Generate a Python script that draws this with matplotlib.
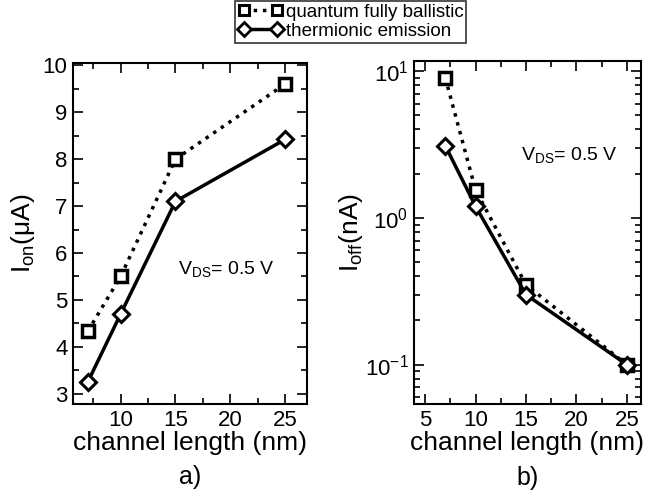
import matplotlib
matplotlib.use("Agg")
import matplotlib.pyplot as plt
from matplotlib.ticker import MultipleLocator, LogLocator, NullFormatter
from matplotlib.lines import Line2D

plt.rcParams['font.family'] = ['Liberation Sans', 'DejaVu Sans']
plt.rcParams['mathtext.fontset'] = 'custom'
plt.rcParams['mathtext.rm'] = 'Liberation Sans'
plt.rcParams['mathtext.it'] = 'Liberation Sans'

# channel length (nm)
length = [7, 10, 15, 25]
# on current (uA)
ion_quantum = [4.33, 5.5, 8.0, 9.6]
ion_thermionic = [3.25, 4.7, 7.1, 8.42]
# off current (nA)
ioff_quantum = [9.0, 1.55, 0.35, 0.1]
ioff_thermionic = [3.1, 1.2, 0.3, 0.1]

fig = plt.figure(figsize=(6.49, 5.01), dpi=100)
ax1 = fig.add_axes([73/649, 1-404/501, 234/649, 341/501])
ax2 = fig.add_axes([414/649, 1-404/501, 227/649, 343/501])

q_style = dict(color='k', ls=':', lw=2.5, marker='s', ms=9, mfc='white', mew=2.5)
t_style = dict(color='k', ls='-', lw=2.5, marker='D', ms=8, mfc='white', mew=2.2)

ax1.plot(length, ion_quantum, **q_style)
ax1.plot(length, ion_thermionic, **t_style)
ax1.set_xlim(5.65, 27)
ax1.set_ylim(2.78, 10.05)
ax1.xaxis.set_major_locator(MultipleLocator(5))
ax1.xaxis.set_minor_locator(MultipleLocator(2.5))
ax1.yaxis.set_major_locator(MultipleLocator(1))
ax1.yaxis.set_minor_locator(MultipleLocator(0.5))
ax1.set_ylabel(r'I$_{\rm on}$($\mu$A)', fontsize=19, labelpad=4)
ax1.set_xlabel('channel length (nm)', fontsize=19, labelpad=0)
ax1.text(0.45, 0.38, r'V$_{\rm DS}$= 0.5 V', transform=ax1.transAxes, fontsize=14)
ax1.text(0.5, -0.215, 'a)', transform=ax1.transAxes, fontsize=18,
         ha='center', va='center')

ax2.plot(length, ioff_quantum, **q_style)
ax2.plot(length, ioff_thermionic, **t_style)
ax2.set_yscale('log')
ax2.set_xlim(3.9, 26.4)
ax2.set_ylim(0.054, 11.7)
ax2.xaxis.set_major_locator(MultipleLocator(5))
ax2.xaxis.set_minor_locator(MultipleLocator(2.5))
ax2.yaxis.set_major_locator(LogLocator(base=10, numticks=10))
ax2.yaxis.set_minor_locator(LogLocator(base=10, subs=range(2, 10), numticks=10))
ax2.yaxis.set_minor_formatter(NullFormatter())
ax2.set_ylabel(r'I$_{\rm off}$(nA)', fontsize=19, labelpad=0)
ax2.set_xlabel('channel length (nm)', fontsize=19, labelpad=0)
ax2.text(0.47, 0.71, r'V$_{\rm DS}$= 0.5 V', transform=ax2.transAxes, fontsize=14)
ax2.text(0.5, -0.215, 'b)', transform=ax2.transAxes, fontsize=18,
         ha='center', va='center')

for ax in (ax1, ax2):
    for s in ax.spines.values():
        s.set_linewidth(1.5)
    ax.tick_params(which='both', direction='in', top=True, right=True, width=1.2)
    ax.tick_params(which='major', length=7, labelsize=16, pad=4)
    ax.tick_params(which='minor', length=4)

lq = dict(q_style, ms=7, mew=2.2)
lt = dict(t_style, ms=7, mew=2.0)
handles = [Line2D([], [], **lq), Line2D([], [], **lt)]
leg = fig.legend(handles, ['quantum fully ballistic', 'thermionic emission'],
                 loc='upper center', bbox_to_anchor=(0.5405, 0.998), fontsize=13.5,
                 frameon=True, fancybox=False, edgecolor='k', handlelength=2.4,
                 handletextpad=0.15, borderpad=0.15, labelspacing=0.1,
                 borderaxespad=0.0, numpoints=2)
leg.get_frame().set_linewidth(1.2)

fig.savefig('out.png', dpi=100)
